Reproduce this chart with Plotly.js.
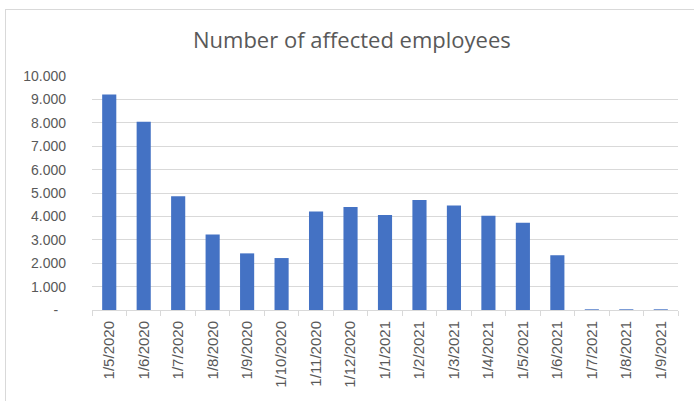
<!DOCTYPE html>
<html>
<head>
<meta charset="utf-8">
<script src="https://cdn.plot.ly/plotly-3.0.1.min.js"></script>
<style>
  html, body { margin: 0; padding: 0; background: #fff; }
  #wrap { position: relative; width: 694px; height: 401px; overflow: hidden; }
  #chart { position: absolute; left: 0; top: 0; width: 694px; height: 401px; }
  #frame { position: absolute; left: 5px; top: 9px; width: 800px; height: 500px;
           border: 1px solid #d9d9d9; pointer-events: none; }
</style>
</head>
<body>
<div id="wrap">
  <div id="chart"></div>
  <div id="frame"></div>
</div>
<script>
const categories = ["1/5/2020", "1/6/2020", "1/7/2020", "1/8/2020", "1/9/2020", "1/10/2020",
  "1/11/2020", "1/12/2020", "1/1/2021", "1/2/2021", "1/3/2021", "1/4/2021", "1/5/2021",
  "1/6/2021", "1/7/2021", "1/8/2021", "1/9/2021"];
const employees = [9210, 8040, 4860, 3230, 2420, 2220, 4210, 4400, 4060, 4700, 4470, 4030,
  3730, 2340, 30, 30, 30];
const yTickVals = [0, 1000, 2000, 3000, 4000, 5000, 6000, 7000, 8000, 9000, 10000];
const yTickText = ["-\u00a0\u00a0", "1.000", "2.000", "3.000", "4.000", "5.000", "6.000",
  "7.000", "8.000", "9.000", "10.000"];

const font = "Liberation Sans, Arial, sans-serif";
const trace = {
  type: "bar",
  x: categories,
  y: employees,
  width: 0.41,
  marker: { color: "#4472C4" },
  hoverinfo: "x+y"
};
const layout = {
  width: 694, height: 401,
  margin: { l: 92, r: 16, t: 76, b: 91, autoexpand: false },
  paper_bgcolor: "#ffffff", plot_bgcolor: "#ffffff",
  showlegend: false,
  title: {
    text: "Number of affected employees",
    font: { family: "Open Sans, sans-serif", size: 22, color: "#595959" },
    x: 0.507, xanchor: "center", y: 0.9, yanchor: "middle"
  },
  xaxis: {
    type: "category",
    tickangle: -90,
    tickfont: { family: font, size: 15, color: "#595959" },
    showline: true, linecolor: "#d9d9d9", linewidth: 1,
    ticks: "outside", tickson: "boundaries", ticklen: 5, tickcolor: "#d9d9d9",
    ticklabelstandoff: 4,
    showgrid: false, automargin: false
  },
  yaxis: {
    range: [0, 10000],
    tickvals: yTickVals, ticktext: yTickText,
    tickfont: { family: font, size: 14, color: "#595959" },
    showgrid: true, gridcolor: "#d9d9d9", gridwidth: 1,
    zeroline: false, showline: false, ticks: "",
    ticklabelstandoff: 25, automargin: false
  },
  bargap: 0.59
};
Plotly.newPlot("chart", [trace], layout, { displayModeBar: false, staticPlot: true });
</script>
</body>
</html>
